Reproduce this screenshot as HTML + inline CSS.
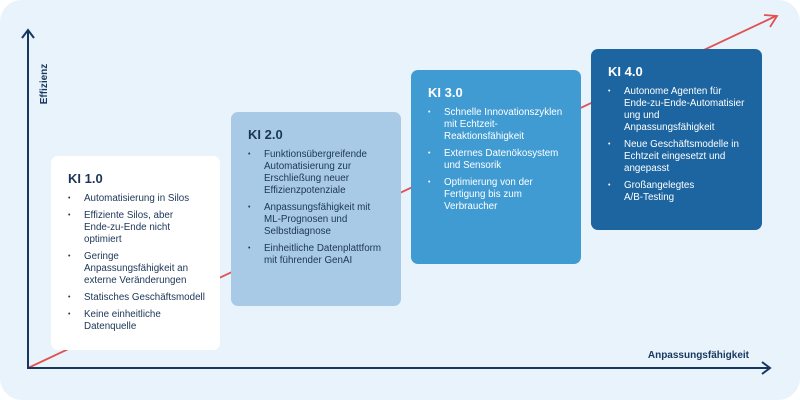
<!DOCTYPE html>
<html><head><style>
body{margin:0;width:800px;height:400px;background:#fff;font-family:"Liberation Sans",sans-serif;overflow:hidden;position:relative}
.bg{position:absolute;left:0;top:0;width:800px;height:400px;background:#e9f3fc;border-radius:22px}
.box{position:absolute;border-radius:7px;box-sizing:border-box;padding:15px 4px 0 17px}
.box h3{margin:0 0 7px 0;font-size:13px;font-weight:bold}
.box ul{margin:0;padding:0;list-style:none}
.box li{position:relative;padding-left:16px;font-size:9.8px;line-height:12px;margin-bottom:5px;white-space:nowrap}
.box li:before{content:"•";position:absolute;left:0;font-size:7px}
</style></head><body>
<div class="bg"></div>
<svg width="800" height="400" style="position:absolute;left:0;top:0">
<line x1="28" y1="368" x2="776" y2="16" stroke="#e05252" stroke-width="1.8"/>
<polyline points="764,15 777,16 770,27" fill="none" stroke="#e05252" stroke-width="1.8"/>
<line x1="28" y1="30" x2="28" y2="369" stroke="#17375e" stroke-width="2"/>
<polyline points="22,38 28,30 34,38" fill="none" stroke="#17375e" stroke-width="2"/>
<line x1="27" y1="368" x2="770" y2="368" stroke="#17375e" stroke-width="2"/>
<polyline points="762,362 770,368 762,374" fill="none" stroke="#17375e" stroke-width="2"/>
<text x="47" y="84" transform="rotate(-90 47 84)" text-anchor="middle" font-size="10" font-weight="bold" fill="#17375e" font-family="Liberation Sans">Effizienz</text>
<text x="749" y="358" text-anchor="end" font-size="10" font-weight="bold" fill="#17375e" font-family="Liberation Sans">Anpassungsfähigkeit</text>
</svg>
<div class="box" style="left:51px;top:156px;width:169px;height:194px;background:#fff;color:#1c3557">
<h3>KI 1.0</h3><ul>
<li>Automatisierung in Silos</li>
<li>Effiziente Silos, aber<br>Ende-zu-Ende nicht<br>optimiert</li>
<li>Geringe<br>Anpassungsfähigkeit an<br>externe Veränderungen</li>
<li>Statisches Geschäftsmodell</li>
<li>Keine einheitliche<br>Datenquelle</li></ul></div>
<div class="box" style="left:231px;top:112px;width:170px;height:194px;background:#a9cae6;color:#1c3557">
<h3>KI 2.0</h3><ul>
<li>Funktionsübergreifende<br>Automatisierung zur<br>Erschließung neuer<br>Effizienzpotenziale</li>
<li>Anpassungsfähigkeit mit<br>ML-Prognosen und<br>Selbstdiagnose</li>
<li>Einheitliche Datenplattform<br>mit führender GenAI</li></ul></div>
<div class="box" style="left:411px;top:70px;width:170px;height:194px;background:#419bd3;color:#fff">
<h3>KI 3.0</h3><ul>
<li>Schnelle Innovationszyklen<br>mit Echtzeit-<br>Reaktionsfähigkeit</li>
<li>Externes Datenökosystem<br>und Sensorik</li>
<li>Optimierung von der<br>Fertigung bis zum<br>Verbraucher</li></ul></div>
<div class="box" style="left:591px;top:49px;width:171px;height:181px;background:#1c65a0;color:#fff">
<h3>KI 4.0</h3><ul>
<li>Autonome Agenten für<br>Ende-zu-Ende-Automatisier<br>ung und<br>Anpassungsfähigkeit</li>
<li>Neue Geschäftsmodelle in<br>Echtzeit eingesetzt und<br>angepasst</li>
<li>Großangelegtes<br>A/B-Testing</li></ul></div>
</body></html>
